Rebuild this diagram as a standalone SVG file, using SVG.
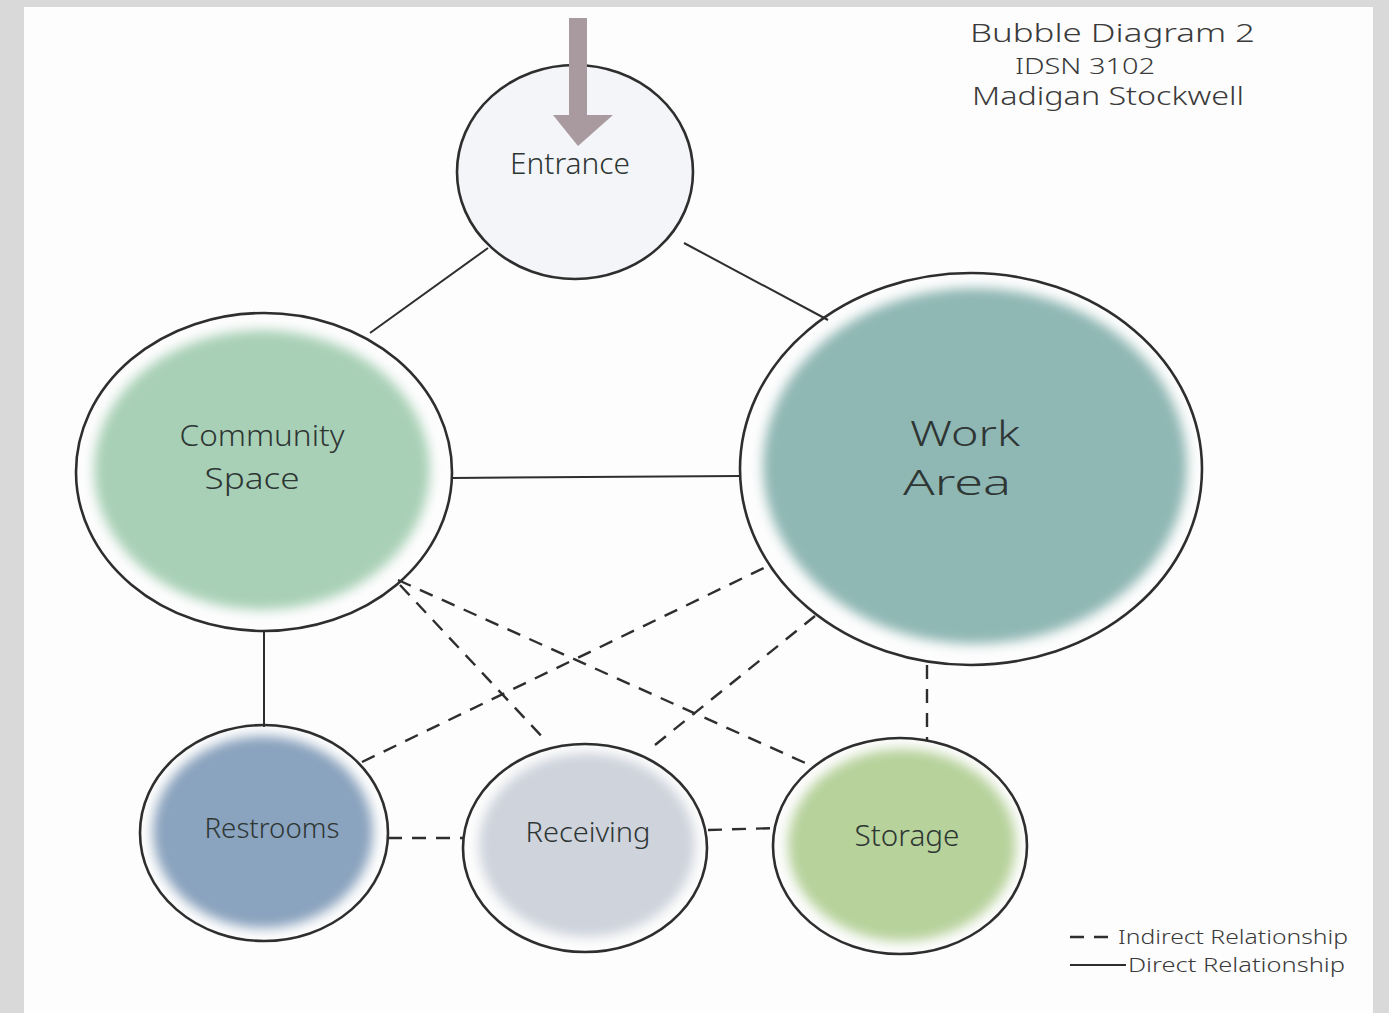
<svg xmlns="http://www.w3.org/2000/svg" width="1389" height="1013" viewBox="0 0 1389 1013">
<defs>
<filter id="soft" x="-10%" y="-10%" width="120%" height="120%"><feGaussianBlur stdDeviation="6"/></filter>
<style>
.outline{fill:none;stroke:#2e2e2e;stroke-width:2.6}
.blob{filter:url(#soft)}
.lbl{font-family:"Noto Sans","DejaVu Sans",sans-serif;font-weight:300;fill:#2e3634;text-anchor:middle}
.hand{font-family:"Noto Sans","DejaVu Sans",sans-serif;font-weight:300;fill:#3a3a3a}
.solid{stroke:#2e2e2e;stroke-width:2;fill:none}
.dash{stroke:#2e2e2e;stroke-width:2.4;fill:none;stroke-dasharray:14 10}
</style>
</defs>
<rect x="0" y="0" width="1389" height="1013" fill="#d9d9d9"/>
<rect x="24" y="7" width="1349" height="1006" fill="#fdfdfd"/>

<g id="connectors">
<line class="solid" x1="488" y1="248" x2="370" y2="333"/>
<line class="solid" x1="684" y1="243" x2="828" y2="320"/>
<line class="solid" x1="452" y1="478" x2="740" y2="476"/>
<line class="solid" x1="264" y1="632" x2="264" y2="727"/>
<line class="dash" x1="398" y1="580" x2="812" y2="766"/>
<line class="dash" x1="400" y1="585" x2="547" y2="742"/>
<line class="dash" x1="362" y1="762" x2="770" y2="565"/>
<line class="dash" x1="655" y1="745" x2="815" y2="616"/>
<line class="dash" x1="388" y1="838" x2="463" y2="838"/>
<line class="dash" x1="708" y1="830" x2="777" y2="828"/>
<line class="dash" x1="927" y1="665" x2="927" y2="740"/>
</g>

<g id="entrance">
<ellipse cx="575" cy="172" rx="118" ry="107" fill="#f4f5f8"/>
<ellipse class="outline" cx="575" cy="172" rx="118" ry="107"/>
<rect x="569" y="18" width="18" height="99" fill="#a99a9f"/>
<polygon points="553,115 613,115 578,146" fill="#a99a9f"/>
<text class="lbl" x="570" y="174" font-size="30" textLength="120" lengthAdjust="spacingAndGlyphs">Entrance</text>
</g>

<g id="community-space">
<ellipse class="blob" cx="262" cy="470" rx="168" ry="140" fill="#a8d0b6"/>
<ellipse class="outline" cx="264" cy="472" rx="188" ry="159"/>
<text class="lbl" x="262" y="446" font-size="30" textLength="165" lengthAdjust="spacingAndGlyphs">Community</text>
<text class="lbl" x="252" y="489" font-size="30" textLength="95" lengthAdjust="spacingAndGlyphs">Space</text>
</g>

<g id="work-area">
<ellipse class="blob" cx="975" cy="466" rx="212" ry="178" fill="#8fb7b4"/>
<ellipse class="outline" cx="971" cy="469" rx="231" ry="196"/>
<text class="lbl" x="965" y="446" font-size="34" textLength="110" lengthAdjust="spacingAndGlyphs">Work</text>
<text class="lbl" x="957" y="495" font-size="34" textLength="108" lengthAdjust="spacingAndGlyphs">Area</text>
</g>

<g id="restrooms">
<ellipse class="blob" cx="263" cy="832" rx="110" ry="96" fill="#8aa3be"/>
<ellipse class="outline" cx="264" cy="833" rx="124" ry="108"/>
<text class="lbl" x="272" y="838" font-size="28" textLength="135" lengthAdjust="spacingAndGlyphs">Restrooms</text>
</g>

<g id="receiving">
<ellipse class="blob" cx="587" cy="845" rx="108" ry="92" fill="#ced3dc"/>
<ellipse class="outline" cx="585" cy="848" rx="122" ry="104"/>
<text class="lbl" x="588" y="842" font-size="28" textLength="125" lengthAdjust="spacingAndGlyphs">Receiving</text>
</g>

<g id="storage">
<ellipse class="blob" cx="902" cy="845" rx="114" ry="96" fill="#b7d29b"/>
<ellipse class="outline" cx="900" cy="846" rx="127" ry="108"/>
<text class="lbl" x="907" y="846" font-size="30" textLength="105" lengthAdjust="spacingAndGlyphs">Storage</text>
</g>

<g id="title">
<text class="hand" x="970" y="42" font-size="25" textLength="285" lengthAdjust="spacingAndGlyphs">Bubble Diagram 2</text>
<text class="hand" x="1015" y="74" font-size="21" textLength="140" lengthAdjust="spacingAndGlyphs">IDSN 3102</text>
<text class="hand" x="972" y="105" font-size="25" textLength="272" lengthAdjust="spacingAndGlyphs">Madigan Stockwell</text>
</g>

<g id="legend">
<line class="dash" x1="1070" y1="937" x2="1118" y2="937" stroke-dasharray="10 6"/>
<line class="solid" x1="1070" y1="965" x2="1126" y2="965"/>
<text class="hand" x="1118" y="944" font-size="20" textLength="230" lengthAdjust="spacingAndGlyphs">Indirect Relationship</text>
<text class="hand" x="1128" y="972" font-size="20" textLength="217" lengthAdjust="spacingAndGlyphs">Direct Relationship</text>
</g>
</svg>
